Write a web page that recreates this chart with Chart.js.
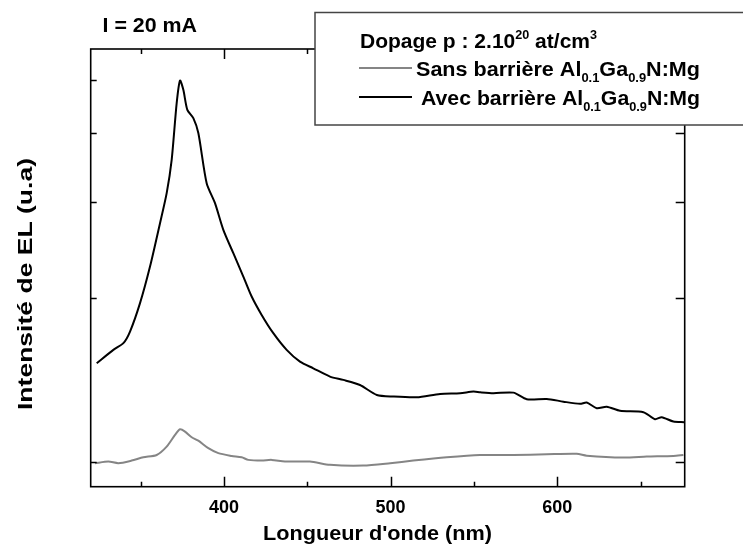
<!DOCTYPE html>
<html>
<head>
<meta charset="utf-8">
<script src="https://cdn.jsdelivr.net/npm/chart.js@4.4.1/dist/chart.umd.min.js"></script>
<style>
  html, body { margin: 0; padding: 0; background: #fff; }
  #wrap { width: 743px; height: 549px; }
</style>
</head>
<body>
<div id="wrap"><canvas id="elChart" width="743" height="549"></canvas></div>
<script>
// spectra (wavelength in nm, EL intensity in a.u., log axis)
const wavelengthAvec = [323.6, 333.6, 339.6, 343.6, 349.6, 355.6, 361.6, 365.6, 368.6, 371.6,
  373.6, 375.6, 378.0, 381.6, 384.6, 389.6, 394.6, 399.6, 405.6, 411.6,
  416.6, 422.6, 429.6, 437.6, 445.6, 453.6, 463.6, 471.6, 481.6, 491.7,
  501.6, 515.7, 529.7, 541.7, 549.7, 553.7, 561.7, 573.7, 581.7, 593.7,
  603.7, 613.7, 617.7, 623.7, 629.7, 637.7, 651.7, 658.7, 662.7, 669.7, 676.1];
const intensityAvec = [1.518, 1.606, 1.652, 1.735, 1.956, 2.282, 2.740, 3.110, 3.578, 4.545,
  5.00, 4.807, 4.418, 4.266, 4.006, 3.243, 2.981, 2.664, 2.414, 2.188,
  2.011, 1.861, 1.723, 1.606, 1.528, 1.486, 1.435, 1.415, 1.385, 1.328,
  1.319, 1.315, 1.334, 1.338, 1.347, 1.343, 1.338, 1.341, 1.304, 1.306,
  1.291, 1.279, 1.286, 1.256, 1.264, 1.242, 1.235, 1.199, 1.209, 1.187, 1.184];

const wavelengthSans = [322.6, 330.6, 336.6, 344.6, 351.6, 359.6, 365.6, 370.6, 373.6, 376.6,
  380.6, 384.6, 390.6, 396.6, 404.6, 410.6, 414.6, 422.6, 428.6, 436.6,
  451.6, 463.6, 483.6, 499.7, 513.6, 533.7, 553.7, 573.7, 593.7, 611.7,
  617.7, 639.7, 653.7, 669.7, 675.7];
const intensitySans = [0.996, 1.003, 0.996, 1.007, 1.021, 1.031, 1.068, 1.122, 1.149, 1.138,
  1.111, 1.095, 1.061, 1.039, 1.027, 1.021, 1.010, 1.007, 1.010, 1.003,
  1.003, 0.989, 0.986, 0.996, 1.007, 1.021, 1.031, 1.031, 1.034, 1.036,
  1.028, 1.020, 1.024, 1.027, 1.031];

const xMajorTicks = [400, 500, 600];
const xMinorTicks = [350, 450, 550, 650];
const yTicks = [1, 2, 3, 4, 5];

const seriesNames = ["Sans barrière", "Avec barrière"];
const currentLabel = "I = 20 mA";
const xTitle = "Longueur d'onde (nm)";
const yTitle = "Intensité de EL (u.a)";

const FONT = "'Liberation Sans', Arial, sans-serif";

function toPoints(xs, ys) {
  return xs.map((x, i) => ({ x: x, y: ys[i] }));
}

// text with sub/superscripts, stretched horizontally to a given width
// parts = [[text, 'sub'|'sup'|undefined], ...]
function drawRich(ctx, parts, x, y, size, width) {
  const pieces = parts.map(([txt, kind]) => {
    let dy = 0, s = size;
    if (kind === "sub") { s = Math.round(size * 0.62); dy = size * 0.32; }
    if (kind === "sup") { s = Math.round(size * 0.62); dy = -size * 0.45; }
    const font = "bold " + s + "px " + FONT;
    ctx.font = font;
    return { txt, dy, font, w: ctx.measureText(txt).width };
  });
  const total = pieces.reduce((t, p) => t + p.w, 0);
  const sx = width ? width / total : 1;
  ctx.save();
  ctx.translate(x, y);
  ctx.scale(sx, 1);
  ctx.textBaseline = "alphabetic";
  ctx.textAlign = "left";
  let cx = 0;
  pieces.forEach(p => {
    ctx.font = p.font;
    ctx.fillText(p.txt, cx, p.dy);
    cx += p.w;
  });
  ctx.restore();
}

const decorPlugin = {
  id: "decor",
  afterDraw(chart) {
    const ctx = chart.ctx;
    const a = chart.chartArea;
    const xs = chart.scales.x, ys = chart.scales.y;
    ctx.save();

    // frame
    ctx.strokeStyle = "#000";
    ctx.lineWidth = 1.6;
    ctx.strokeRect(a.left, a.top, a.right - a.left, a.bottom - a.top);

    // inward tick marks
    ctx.lineWidth = 1.5;
    ctx.beginPath();
    xMajorTicks.forEach(v => {
      const p = Math.round(xs.getPixelForValue(v)) + 0.5;
      ctx.moveTo(p, a.bottom); ctx.lineTo(p, a.bottom - 10);
      ctx.moveTo(p, a.top); ctx.lineTo(p, a.top + 10);
    });
    xMinorTicks.forEach(v => {
      const p = Math.round(xs.getPixelForValue(v)) + 0.5;
      ctx.moveTo(p, a.bottom); ctx.lineTo(p, a.bottom - 5);
      ctx.moveTo(p, a.top); ctx.lineTo(p, a.top + 5);
    });
    yTicks.forEach(v => {
      const p = Math.round(ys.getPixelForValue(v)) + 0.5;
      ctx.moveTo(a.left, p); ctx.lineTo(a.left + 6, p);
      ctx.moveTo(a.right, p); ctx.lineTo(a.right - 9, p);
    });
    ctx.stroke();

    // titles
    ctx.fillStyle = "#000";
    drawRich(ctx, [[xTitle]], 263, 540, 20, 229);
    ctx.save();
    ctx.translate(32, 410);
    ctx.rotate(-Math.PI / 2);
    drawRich(ctx, [[yTitle]], 0, 0, 20, 252);
    ctx.restore();

    drawRich(ctx, [[currentLabel]], 102.5, 32, 20, 94.5);

    // legend box
    ctx.fillStyle = "#fff";
    ctx.fillRect(315, 12.5, 440, 112.5);
    ctx.strokeStyle = "#444";
    ctx.lineWidth = 1.5;
    ctx.strokeRect(315, 12.5, 440, 112.5);

    ctx.fillStyle = "#000";
    drawRich(ctx, [["Dopage p : 2.10"], ["20", "sup"], [" at/cm"], ["3", "sup"]], 360, 48, 20, 237);

    const rows = [68, 97];
    const starts = [416, 421];
    chart.data.datasets.forEach((ds, i) => {
      ctx.strokeStyle = ds.borderColor;
      ctx.lineWidth = ds.borderWidth;
      ctx.beginPath();
      ctx.moveTo(359, rows[i]);
      ctx.lineTo(412, rows[i]);
      ctx.stroke();
      ctx.fillStyle = "#000";
      drawRich(ctx, [[seriesNames[i] + " Al"], ["0.1", "sub"], ["Ga"], ["0.9", "sub"], ["N:Mg"]],
        starts[i], rows[i] + 7.5, 20, 700 - starts[i]);
    });

    ctx.restore();
  }
};

new Chart(document.getElementById("elChart"), {
  type: "line",
  data: {
    datasets: [
      {
        label: seriesNames[0],
        data: toPoints(wavelengthSans, intensitySans),
        borderColor: "#858585",
        borderWidth: 2,
        pointRadius: 0,
        tension: 0.25
      },
      {
        label: seriesNames[1],
        data: toPoints(wavelengthAvec, intensityAvec),
        borderColor: "#000000",
        borderWidth: 2,
        pointRadius: 0,
        tension: 0.25
      }
    ]
  },
  options: {
    responsive: false,
    animation: false,
    devicePixelRatio: 1,
    layout: { padding: { top: 49, right: 58.3, left: 0, bottom: 0 } },
    plugins: {
      legend: { display: false },
      tooltip: { enabled: false }
    },
    scales: {
      x: {
        type: "linear",
        min: 320,
        max: 676.5,
        afterBuildTicks: s => { s.ticks = xMajorTicks.map(v => ({ value: v })); },
        afterFit: s => { s.height = 62.3; },
        grid: { display: false, drawTicks: false },
        border: { display: false },
        ticks: {
          color: "#000",
          padding: 11,
          maxRotation: 0,
          font: { family: FONT, size: 18, weight: "bold" }
        }
      },
      y: {
        type: "logarithmic",
        min: 0.902,
        max: 5.71,
        afterBuildTicks: s => { s.ticks = yTicks.map(v => ({ value: v })); },
        afterFit: s => { s.width = 90.7; },
        grid: { display: false, drawTicks: false },
        border: { display: false },
        ticks: { display: false }
      }
    }
  },
  plugins: [decorPlugin]
});
</script>
</body>
</html>
